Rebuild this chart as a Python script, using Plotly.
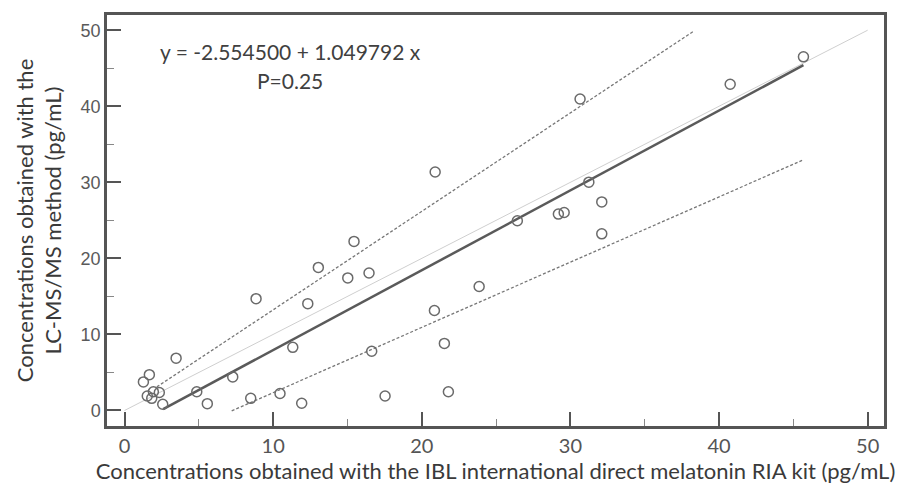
import plotly.graph_objects as go

# Data
ria_x = [1.27, 1.67, 1.94, 2.34, 1.53, 1.83, 2.57, 3.47, 4.86, 5.57, 7.28, 8.49, 8.85,
         10.46, 11.32, 11.92, 12.33, 13.04, 15.02, 15.44, 16.45, 16.63, 17.53, 20.85,
         20.9, 21.52, 21.79, 23.86, 26.43, 29.19, 29.58, 30.65, 31.24, 32.11, 32.11,
         40.75, 45.68]
lcms_y = [3.76, 4.71, 2.47, 2.37, 1.90, 1.6, 0.82, 6.88, 2.47, 0.9, 4.41, 1.6, 14.7,
          2.24, 8.3, 0.95, 14.05, 18.81, 17.43, 22.23, 18.08, 7.79, 1.9, 13.15,
          31.35, 8.82, 2.47, 16.3, 24.95, 25.82, 26.03, 40.96, 30.02, 27.42, 23.23,
          42.9, 46.5]

intercept = -2.554500
slope = 1.049792
fit_x = [2.6, 45.68]

identity_x = [0, 50]

upper_x = [2.17, 38.24]
upper_y = [3.1, 49.8]
lower_x = [7.21, 45.68]
lower_y = [-0.05, 32.96]

x_ticks = [0, 10, 20, 30, 40, 50]
y_ticks = [0, 10, 20, 30, 40, 50]

x_title = "Concentrations obtained with the IBL international direct melatonin RIA kit (pg/mL)"
y_title = "Concentrations obtained with the<br>LC-MS/MS method (pg/mL)"
eq_text = "y = -2.554500 + 1.049792 x"
p_text = "P=0.25"

fit_y = [intercept + slope * v for v in fit_x]

fig = go.Figure()
fig.add_trace(go.Scatter(x=identity_x, y=identity_x, mode="lines",
                         line=dict(color="#cfcfcf", width=1), hoverinfo="skip"))
fig.add_trace(go.Scatter(x=upper_x, y=upper_y, mode="lines",
                         line=dict(color="#777777", width=1.3, dash="3px,2px")))
fig.add_trace(go.Scatter(x=lower_x, y=lower_y, mode="lines",
                         line=dict(color="#777777", width=1.3, dash="3px,2px")))
fig.add_trace(go.Scatter(x=fit_x, y=fit_y, mode="lines",
                         line=dict(color="#5a5a5a", width=2.5)))
fig.add_trace(go.Scatter(x=ria_x, y=lcms_y, mode="markers",
                         marker=dict(symbol="circle-open", size=10,
                                     color="#6a6a6a", line=dict(width=1.5, color="#6a6a6a"))))

fig.add_annotation(x=11.14, y=47.15, text=eq_text, showarrow=False,
                   font=dict(family="Lato", size=21, color="#404040"),
                   xanchor="center", yanchor="middle")
fig.add_annotation(x=11.14, y=43.4, text=p_text, showarrow=False,
                   font=dict(family="Lato", size=21, color="#404040"),
                   xanchor="center", yanchor="middle")

fig.update_layout(
    width=901, height=487,
    margin=dict(l=107, r=17, t=12, b=59),
    paper_bgcolor="white", plot_bgcolor="white",
    showlegend=False,
)
fig.update_xaxes(
    range=[-1.18, 51.1], tickvals=x_ticks, ticks="inside", ticklen=14, tickwidth=2,
    tickcolor="#555555", showline=True, linewidth=2.5, linecolor="#555555", mirror=True,
    showgrid=False, zeroline=False,
    tickfont=dict(family="Lato", size=20, color="#555555"),
    minor=dict(dtick=5, ticks="inside", ticklen=7, tickwidth=1, tickcolor="#888888", showgrid=False),
    title=dict(text=x_title, font=dict(family="Lato", size=22, color="#3a3a3a"), standoff=3),
)
fig.update_yaxes(
    range=[-2.04, 52.0], tickvals=y_ticks, ticks="inside", ticklen=14, tickwidth=2,
    tickcolor="#555555", showline=True, linewidth=2.5, linecolor="#555555", mirror=True,
    showgrid=False, zeroline=False,
    tickfont=dict(family="Liberation Sans", size=18, color="#5a5a5a"),
    minor=dict(dtick=5, ticks="inside", ticklen=7, tickwidth=1, tickcolor="#888888", showgrid=False),
    title=dict(text=y_title, font=dict(family="Lato", size=22, color="#3a3a3a"), standoff=13),
)

fig.write_html("out.html")
